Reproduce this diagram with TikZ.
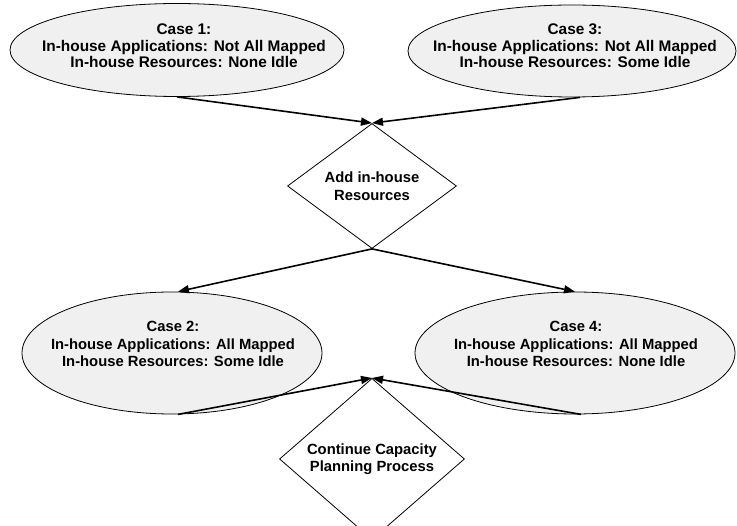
\documentclass[tikz,border=0pt]{standalone}
\usepackage{fontspec}
\setmainfont{Liberation Sans}
\usetikzlibrary{shapes.geometric,arrows.meta}

\tikzset{
  casebox/.style={ellipse, draw, fill=gray!12, line width=0.8pt, inner sep=0pt},
  casetext/.style={inner sep=0pt, align=center,
    font=\bfseries\fontsize{15.4}{16.6}\selectfont},
  stepbox/.style={diamond, draw, fill=white, line width=0.8pt, inner sep=0pt,
    align=center, font=\bfseries\fontsize{14.8}{17.5}\selectfont},
  flow/.style={line width=1.6pt, -{Triangle[length=11pt,width=8pt]}}
}

\begin{document}
\begin{tikzpicture}[x=1pt,y=-1pt]
  \useasboundingbox (0,0) rectangle (737,526);
  % cases before adding resources
  \node[casebox, minimum width=334pt, minimum height=93pt] (case1) at (177,50) {};
  \node[casetext] (case1txt) at (184,46)
    {Case 1:\\In-house Applications: Not All Mapped\\In-house Resources: None Idle};
  \node[casebox, minimum width=328pt, minimum height=92pt] (case3) at (572,51) {};
  \node[casetext] (case3txt) at (575,46)
    {Case 3:\\In-house Applications: Not All Mapped\\In-house Resources: Some Idle};
  \node[stepbox, minimum width=169pt, minimum height=125pt] (add) at (372,186)
    {Add in-house\\Resources};
  % cases after adding resources
  \node[casebox, minimum width=300pt, minimum height=122pt] (case2) at (172,353) {};
  \node[casetext, font=\bfseries\fontsize{14.8}{17.5}\selectfont] (case2txt) at (173,344)
    {Case 2:\\In-house Applications: All Mapped\\In-house Resources: Some Idle};
  \node[casebox, minimum width=320pt, minimum height=122pt] (case4) at (575,353) {};
  \node[casetext, font=\bfseries\fontsize{14.8}{17.5}\selectfont] (case4txt) at (576,344)
    {Case 4:\\In-house Applications: All Mapped\\In-house Resources: None Idle};
  \node[stepbox, minimum width=185pt, minimum height=134pt] (cont) at (372,459)
    {Continue Capacity\\Planning Process};

  \draw[flow] (case1.south) -- (add.north);
  \draw[flow] ([xshift=8pt]case3.south) -- (add.north);
  \draw[flow] (add.south) -- ([xshift=6pt]case2.north);
  \draw[flow] (add.south) -- (case4.north);
  \draw[flow] ([xshift=6pt]case2.south) -- (cont.north);
  \draw[flow] ([xshift=6pt]case4.south) -- (cont.north);
\end{tikzpicture}
\end{document}
